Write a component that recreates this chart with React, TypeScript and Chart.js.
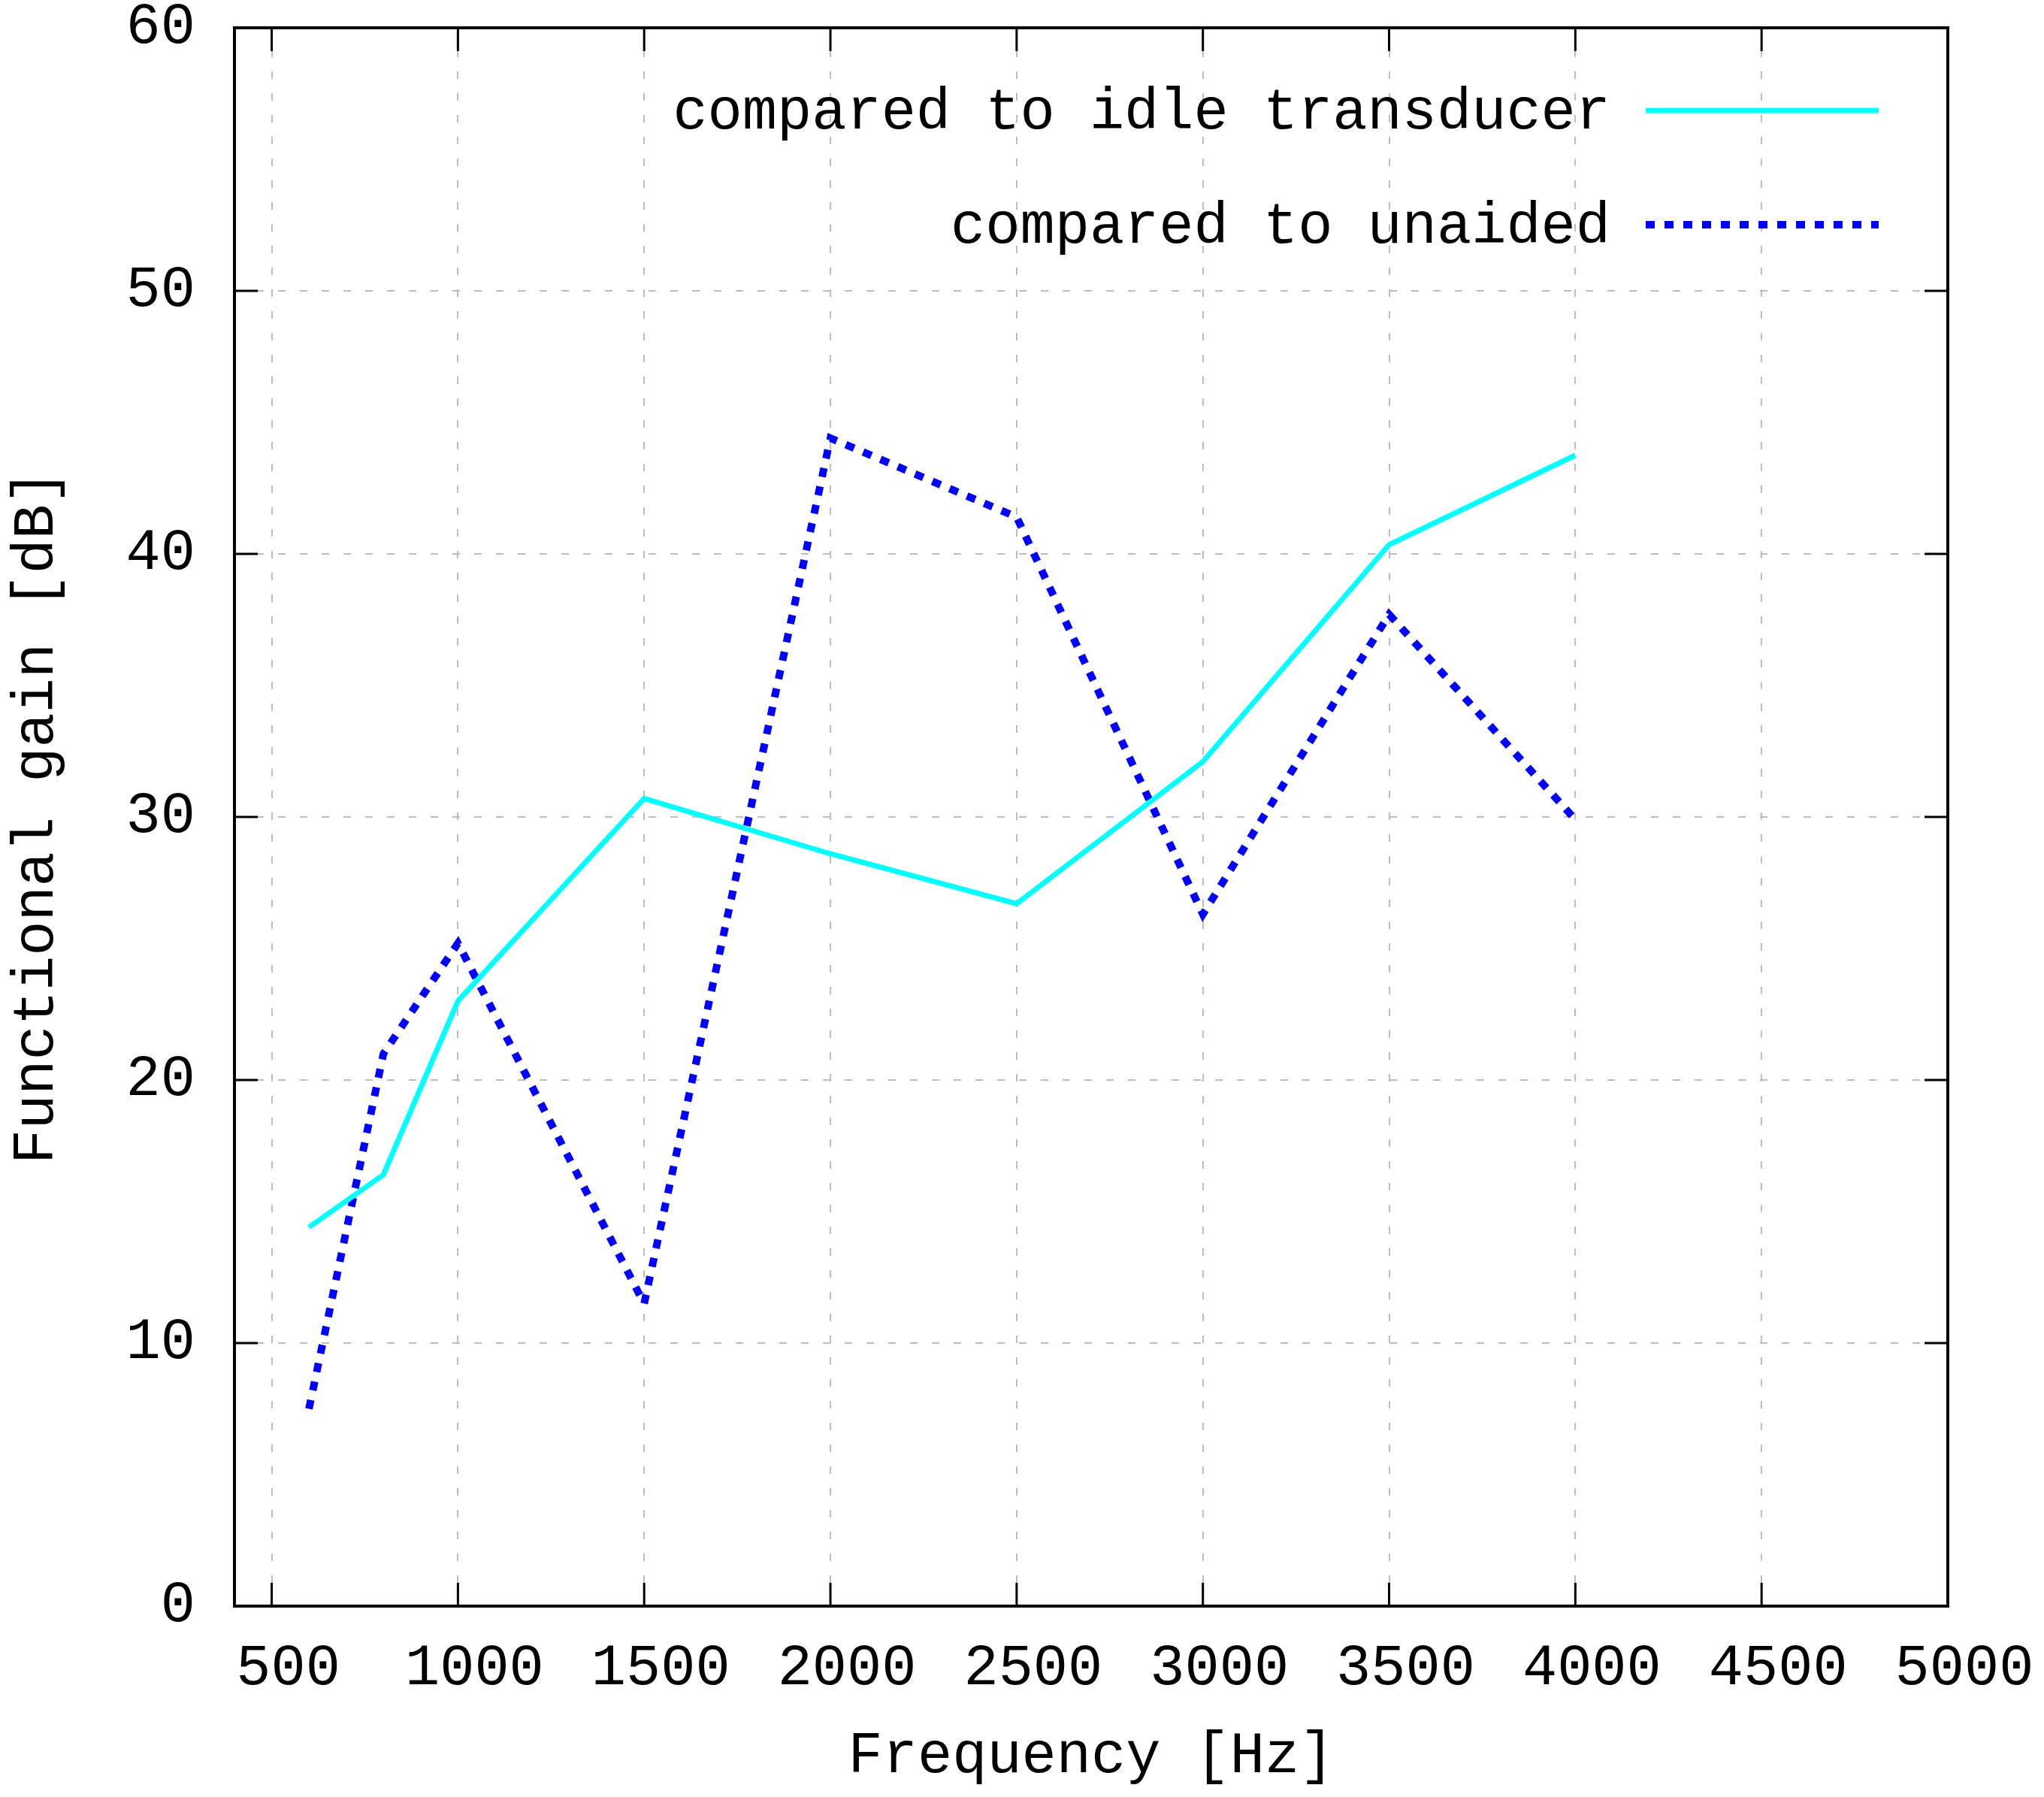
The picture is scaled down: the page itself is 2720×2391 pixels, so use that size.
import React, { useEffect, useRef } from "react";
import { Chart, registerables } from "chart.js";

Chart.register(...registerables);

// ---- data ----
const FREQUENCIES = [600, 800, 1000, 1500, 2000, 2500, 3000, 3500, 4000];
const IDLE_TRANSDUCER = [14.4, 16.4, 23.0, 30.7, 28.6, 26.7, 32.1, 40.35, 43.75];
const UNAIDED = [7.5, 21.0, 25.2, 11.5, 44.4, 41.4, 26.3, 37.7, 29.9];
const SERIES_LABELS = ["compared to idle transducer", "compared to unaided"];
const X_TICKS = [500, 1000, 1500, 2000, 2500, 3000, 3500, 4000, 4500, 5000];
const Y_TICKS = [0, 10, 20, 30, 40, 50, 60];
const X_TITLE = "Frequency [Hz]";
const Y_TITLE = "Functional gain [dB]";

const W = 2720;
const H = 2391;
const FONT = "'Liberation Mono', 'DejaVu Sans Mono', monospace";
const FS = 77;

const gnuplotFrame = {
  id: "gnuplotFrame",
  afterDatasetsDraw(chart: any) {
    const { ctx, chartArea: a, scales } = chart;
    ctx.save();
    ctx.setLineDash([]);
    ctx.strokeStyle = "#000";
    ctx.lineCap = "butt";
    const seg = (x1: number, y1: number, x2: number, y2: number) => {
      ctx.beginPath();
      ctx.moveTo(x1, y1);
      ctx.lineTo(x2, y2);
      ctx.stroke();
    };
    const len = 31;
    ctx.lineWidth = 3;
    for (const v of X_TICKS) {
      const x = scales.x.getPixelForValue(v);
      seg(x, a.bottom, x, a.bottom - len);
      seg(x, a.top, x, a.top + len);
    }
    for (const v of Y_TICKS) {
      const y = scales.y.getPixelForValue(v);
      seg(a.left, y, a.left + len, y);
      seg(a.right, y, a.right - len, y);
    }
    ctx.lineWidth = 4;
    ctx.strokeRect(a.left, a.top, a.right - a.left, a.bottom - a.top);

    // gnuplot-style key: right-aligned text, then line sample
    const textRight = a.right - 449;
    const sampleStart = a.right - 402;
    const sampleEnd = a.right - 92;
    const rowY = [a.top + 110, a.top + 262];
    ctx.font = `${FS}px ${FONT}`;
    ctx.fillStyle = "#000";
    ctx.textAlign = "right";
    ctx.textBaseline = "middle";
    chart.data.datasets.forEach((ds: any, i: number) => {
      const y = rowY[i];
      ctx.fillText(ds.label, textRight, y + 4);
      ctx.strokeStyle = ds.borderColor;
      ctx.lineWidth = ds.borderWidth;
      ctx.setLineDash(ds.borderDash || []);
      seg(sampleStart, y, sampleEnd, y);
    });
    ctx.restore();
  },
};

export default function App() {
  const ref = useRef<HTMLCanvasElement | null>(null);

  useEffect(() => {
    if (!ref.current) return;
    const chart = new Chart(ref.current, {
      type: "line",
      data: {
        datasets: [
          {
            label: SERIES_LABELS[0],
            data: FREQUENCIES.map((f, i) => ({ x: f, y: IDLE_TRANSDUCER[i] })),
            borderColor: "#00ffff",
            backgroundColor: "#00ffff",
            borderWidth: 7,
            pointRadius: 0,
            fill: false,
            tension: 0,
            borderJoinStyle: "miter",
          },
          {
            label: SERIES_LABELS[1],
            data: FREQUENCIES.map((f, i) => ({ x: f, y: UNAIDED[i] })),
            borderColor: "#0000ff",
            backgroundColor: "#0000ff",
            borderWidth: 10,
            borderDash: [12, 13],
            borderCapStyle: "butt",
            pointRadius: 0,
            fill: false,
            tension: 0,
            borderJoinStyle: "miter",
          },
        ],
      },
      options: {
        responsive: false,
        animation: false,
        devicePixelRatio: 1,
        layout: { padding: { top: 37, right: 128, left: 0, bottom: 0 } },
        plugins: {
          legend: { display: false },
          tooltip: { enabled: false },
        },
        scales: {
          x: {
            type: "linear",
            min: 400,
            max: 5000,
            afterBuildTicks: (scale: any) => {
              scale.ticks = X_TICKS.map((v) => ({ value: v }));
            },
            afterFit: (scale: any) => {
              scale.height = H - 2137;
              scale.paddingLeft = 0;
              scale.paddingRight = 0;
            },
            grid: { color: "#bdbdbd", lineWidth: 2, drawTicks: false },
            border: { display: false, dash: [10, 19] },
            ticks: {
              color: "#000",
              font: { family: FONT, size: FS },
              padding: 37,
              labelOffset: 22,
              maxRotation: 0,
              autoSkip: false,
              callback: (v: any) => String(v),
            },
            title: {
              display: true,
              text: X_TITLE,
              color: "#000",
              font: { family: FONT, size: FS },
              padding: { top: 0, bottom: 7 },
            },
          },
          y: {
            type: "linear",
            min: 0,
            max: 60,
            afterBuildTicks: (scale: any) => {
              scale.ticks = Y_TICKS.map((v) => ({ value: v }));
            },
            afterFit: (scale: any) => {
              scale.width = 312;
              scale.paddingTop = 0;
              scale.paddingBottom = 0;
            },
            grid: { color: "#bdbdbd", lineWidth: 2, drawTicks: false },
            border: { display: false, dash: [10, 19] },
            ticks: {
              color: "#000",
              font: { family: FONT, size: FS },
              padding: 52,
              callback: (v: any) => String(v),
            },
            title: {
              display: true,
              text: Y_TITLE,
              color: "#000",
              font: { family: FONT, size: FS },
              padding: { top: 3, bottom: 0 },
            },
          },
        },
      },
      plugins: [gnuplotFrame],
    } as any);
    return () => chart.destroy();
  }, []);

  return (
    <div style={{ position: "fixed", left: 0, top: 0, width: W, height: H, background: "#fff" }}>
      <canvas ref={ref} width={W} height={H} style={{ display: "block", width: W, height: H }} />
    </div>
  );
}
